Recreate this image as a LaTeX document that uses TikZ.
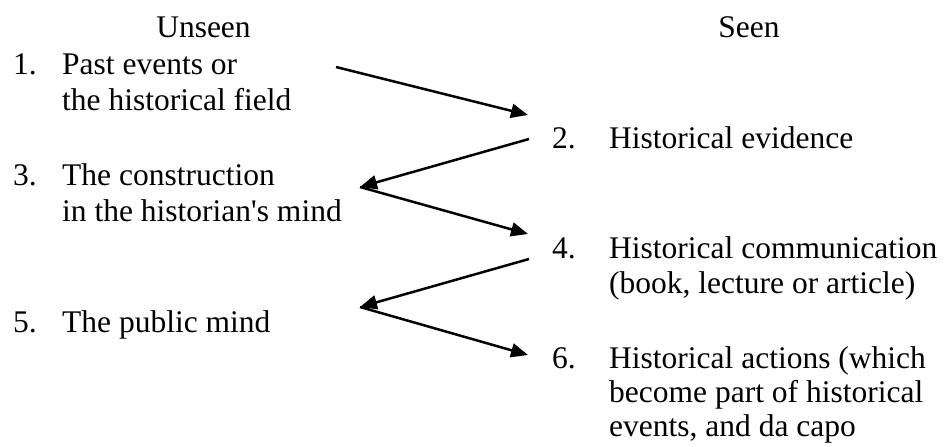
\documentclass[tikz,border=0pt]{standalone}
\usepackage{fontspec}
\setmainfont{Liberation Serif}[Ligatures=TeXOff]
\usetikzlibrary{arrows.meta}
\begin{document}
\begin{tikzpicture}[x=1pt,y=-1pt,
  txt/.style={inner sep=0pt,anchor=base west,font=\fontsize{31.5}{36}\selectfont},
  head/.style={inner sep=0pt,anchor=base,font=\fontsize{31.5}{36}\selectfont},
  flow/.style={line width=2.5pt,-{Triangle[length=17pt,width=14pt]}}]
\useasboundingbox (0,0) rectangle (946,447);
% headings
\node[head] (unseen) at (203.5,37) {Unseen};
\node[head] (seen) at (749,37) {Seen};
% left column
\node[txt] (n1) at (13,74) {1.};
\node[txt] (t1a) at (62,74) {Past events or};
\node[txt] (t1b) at (62,110) {the historical field};
\node[txt] (n3) at (13,185) {3.};
\node[txt] (t3a) at (62,185) {The construction};
\node[txt] (t3b) at (62,221) {in the historian's mind};
\node[txt] (n5) at (13,332) {5.};
\node[txt] (t5a) at (62,332) {The public mind};
% right column
\node[txt] (n2) at (552,148) {2.};
\node[txt] (t2a) at (609,148) {Historical evidence};
\node[txt] (n4) at (552,258) {4.};
\node[txt] (t4a) at (609,258) {Historical communication};
\node[txt] (t4b) at (609,293) {(book, lecture or article)};
\node[txt] (n6) at (552,368) {6.};
\node[txt] (t6a) at (609,368) {Historical actions (which};
\node[txt] (t6b) at (609,402) {become part of historical};
\node[txt] (t6c) at (609,436) {events, and da capo};
% connector end points
\coordinate (a1s) at (336,67);
\coordinate (r1) at (528,115);
\coordinate (r2) at (529,139);
\coordinate (l1) at (360,187);
\coordinate (r3) at (528,234);
\coordinate (r4) at (529,259);
\coordinate (l2) at (360,307);
\coordinate (r5) at (528,355);
% connectors
\draw[flow] (a1s) -- (r1);
\draw[flow] (r2) -- (l1);
\draw[flow] (l1) -- (r3);
\draw[flow] (r4) -- (l2);
\draw[flow] (l2) -- (r5);
\end{tikzpicture}
\end{document}
